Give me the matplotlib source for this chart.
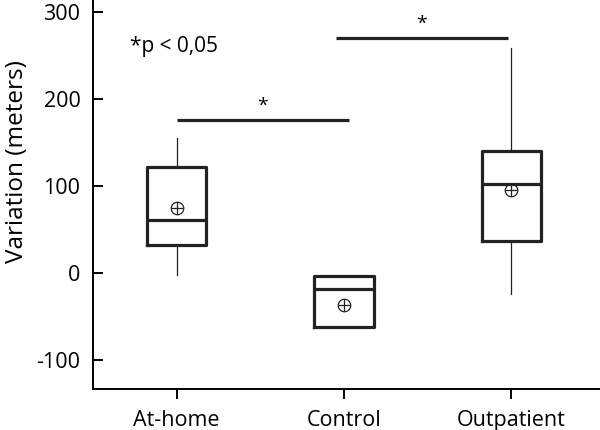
import matplotlib.pyplot as plt

plt.rcParams['font.family'] = ['Open Sans', 'DejaVu Sans']
plt.rcParams['axes.unicode_minus'] = False

groups = ['At-home', 'Control', 'Outpatient']
q1 = [32, -62, 37]
medians = [61, -19, 102]
q3 = [122, -4, 140]
whis_low = [-3, -62, -24]
whis_high = [155, -4, 259]
means = [74, -37, 95]

# significance brackets: (x start, x end, height)
sig_bars = [(0.0, 1.03, 176), (0.95, 1.98, 270)]
sig_label = '*'
note = '*p < 0,05'

stats = []
for i in range(len(groups)):
    stats.append({
        'label': groups[i],
        'q1': q1[i],
        'med': medians[i],
        'q3': q3[i],
        'whislo': whis_low[i],
        'whishi': whis_high[i],
        'fliers': [],
    })

fig = plt.figure(figsize=(6, 4.3), dpi=100)
ax = fig.add_axes([0.155, 0.095, 0.845, 0.905])

positions = list(range(len(groups)))
ax.bxp(stats, positions=positions, widths=0.355, showcaps=False,
       boxprops=dict(color='#222222', linewidth=2.3),
       medianprops=dict(color='#222222', linewidth=2.3),
       whiskerprops=dict(color='#222222', linewidth=0.9))

# mean marker drawn as a circled plus
ax.plot(positions, means, linestyle='none', marker='o', markersize=9,
        markerfacecolor='none', markeredgecolor='#222222', markeredgewidth=0.9)
ax.plot(positions, means, linestyle='none', marker='+', markersize=9,
        markeredgecolor='#222222', markeredgewidth=0.9)

for x0, x1, h in sig_bars:
    ax.plot([x0, x1], [h, h], color='#222222', linewidth=2.3, solid_capstyle='butt')
    ax.text((x0 + x1) / 2, h + 6, sig_label, ha='center', va='bottom', fontsize=14)

ax.text(-0.28, 260, note, ha='left', va='center', fontsize=15)

ax.set_xlim(-0.5, 2.53)
ax.set_ylim(-134, 314)
ax.set_yticks([-100, 0, 100, 200, 300])
ax.set_xticks(positions)
ax.set_xticklabels(groups)
ax.set_ylabel('Variation (meters)', fontsize=17.5)
ax.yaxis.set_label_coords(-0.127, 0.584)

ax.spines['top'].set_visible(False)
ax.spines['right'].set_visible(False)
ax.spines['left'].set_linewidth(1.4)
ax.spines['bottom'].set_linewidth(1.4)
ax.tick_params(axis='y', direction='in', length=7, width=1.4, pad=9, labelsize=15.5)
ax.tick_params(axis='x', direction='out', length=7, width=1.4, pad=8, labelsize=15.5)

fig.savefig('out.png', dpi=100)
